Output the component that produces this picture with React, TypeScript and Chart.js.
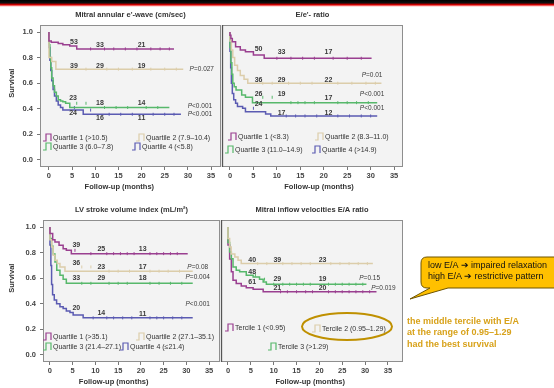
import React, { useEffect, useRef } from 'react';
import { Chart, registerables } from 'chart.js';

Chart.register(...registerables);

const FONT = '"Liberation Sans", Arial, Helvetica, sans-serif';

const PURPLE = '#9a3f90';
const BEIGE = '#dccdaa';
const GREEN = '#57b86b';
const BLUE = '#5b5bb2';

const xTicks = [0, 5, 10, 15, 20, 25, 30, 35];
const yTicks = [0, 0.2, 0.4, 0.6, 0.8, 1.0];
const yTickLabels = ['0.0', '0.2', '0.4', '0.6', '0.8', '1.0'];

// ---------- Panel A: Mitral annular e'-wave ----------
const aTitle = "Mitral annular e'-wave (cm/sec)";
const aLabels = ['Quartile 1 (>10.5)', 'Quartile 2 (7.9–10.4)', 'Quartile 3 (6.0–7.8)', 'Quartile 4 (<5.8)'];
const aQ1Time = [0, 0.5, 2, 3, 4.5, 6, 7, 27];
const aQ1Surv = [1, 0.93, 0.92, 0.91, 0.9, 0.89, 0.868, 0.868];
const aQ1Cens = [9, 12, 14, 16.5, 19, 22, 24, 26];
const aQ2Time = [0, 0.6, 1.5, 2.4, 29];
const aQ2Surv = [1, 0.8, 0.77, 0.71, 0.71];
const aQ2Cens = [8, 12.5, 15, 18, 22, 25, 27.5];
const aQ3Time = [0, 0.2, 0.4, 0.6, 0.9, 1.2, 1.6, 2.0, 2.5, 3.0, 3.6, 4.5, 9.6, 26];
const aQ3Surv = [1, 0.9, 0.8, 0.72, 0.64, 0.58, 0.53, 0.5, 0.47, 0.46, 0.455, 0.443, 0.41, 0.41];
const aQ3Cens = [6, 8, 12, 14.5, 17, 21, 23.5];
const aQ4Time = [0, 0.2, 0.4, 0.6, 0.9, 1.2, 1.6, 2.0, 2.5, 3.0, 7.4, 10.2, 28.5];
const aQ4Surv = [1, 0.88, 0.78, 0.7, 0.62, 0.55, 0.5, 0.46, 0.43, 0.41, 0.39, 0.357, 0.357];
const aQ4Cens = [5.5, 9, 13, 15.5, 18, 22.5, 25, 27];
const aRiskQ1 = [53, 33, 21];
const aRiskQ2 = [39, 29, 19];
const aRiskQ3 = [23, 18, 14];
const aRiskQ4 = [24, 16, 11];
const aPValues = ['P=0.027', 'P<0.001', 'P<0.001'];

// ---------- Panel B: E/e' ratio ----------
const bTitle = "E/e'- ratio";
const bLabels = ['Quartile 1 (<8.3)', 'Quartile 2 (8.3–11.0)', 'Quartile 3 (11.0–14.9)', 'Quartile 4 (>14.9)'];
const bQ1Time = [0, 0.2, 0.5, 1.2, 2.2, 3.3, 5.0, 7.3, 8.4, 30.2];
const bQ1Surv = [1, 0.975, 0.95, 0.925, 0.885, 0.86, 0.846, 0.82, 0.795, 0.795];
const bQ1Cens = [10, 13, 15.5, 18, 22, 25, 28];
const bQ2Time = [0, 0.3, 0.6, 1.0, 1.6, 2.2, 3.0, 3.8, 4.4, 32.3];
const bQ2Surv = [1, 0.93, 0.86, 0.8, 0.74, 0.7, 0.66, 0.63, 0.6, 0.6];
const bQ2Cens = [7, 9, 12.5, 15, 17.5, 23, 26, 29, 31];
const bQ3Time = [0, 0.2, 0.4, 0.6, 0.9, 1.3, 2.5, 3.3, 4.8, 11.7, 31.4];
const bQ3Surv = [1, 0.88, 0.76, 0.67, 0.6, 0.573, 0.547, 0.508, 0.49, 0.448, 0.448];
const bQ3Cens = [7, 9, 13, 14.5, 16, 18, 23, 25, 27, 29.5];
const bQ4Time = [0, 0.15, 0.3, 0.5, 0.8, 1.2, 1.6, 2.7, 3.3, 7.6, 8.7, 9.8, 31.4];
const bQ4Surv = [1, 0.85, 0.72, 0.6, 0.52, 0.47, 0.443, 0.417, 0.404, 0.377, 0.36, 0.344, 0.344];
const bQ4Cens = [5, 12, 14, 16, 18.5, 23, 25.5, 28, 30];
const bRiskQ1 = [50, 33, 17];
const bRiskQ2 = [36, 29, 22];
const bRiskQ3 = [26, 19, 17];
const bRiskQ4 = [24, 17, 12];
const bPValues = ['P=0.01', 'P<0.001', 'P<0.001'];

// ---------- Panel C: LV stroke volume index ----------
const cTitle = 'LV stroke volume index (mL/m²)';
const cLabels = ['Quartile 1 (>35.1)', 'Quartile 2 (27.1–35.1)', 'Quartile 3 (21.4–27.1)', 'Quartile 4 (≤21.4)'];
const cQ1Time = [0, 0.6, 1.1, 2.0, 2.9, 3.6, 4.7, 6.9, 30.3];
const cQ1Surv = [1, 0.95, 0.9, 0.883, 0.857, 0.83, 0.818, 0.792, 0.792];
const cQ1Cens = [5.5, 9, 12.5, 14, 15.5, 17, 18.5, 22, 23.5, 25, 26.5, 28];
const cQ2Time = [0, 0.4, 0.7, 1.1, 1.6, 2.2, 3.3, 10.2, 31.4];
const cQ2Surv = [1, 0.9, 0.844, 0.78, 0.74, 0.714, 0.688, 0.655, 0.655];
const cQ2Cens = [7, 9, 13, 15, 17.5, 22, 24, 26, 28.5];
const cQ3Time = [0, 0.35, 0.7, 1.1, 1.5, 2.2, 2.9, 3.6, 4.4, 31.4];
const cQ3Surv = [1, 0.91, 0.85, 0.79, 0.727, 0.662, 0.623, 0.592, 0.56, 0.56];
const cQ3Cens = [7, 9, 13, 15, 17, 22, 24, 26.5, 29];
const cQ4Time = [0, 0.2, 0.36, 0.58, 0.95, 1.46, 2.2, 2.9, 3.6, 4.4, 5.1, 7.3, 8.4, 31.4];
const cQ4Surv = [1, 0.86, 0.7, 0.55, 0.47, 0.43, 0.4, 0.377, 0.364, 0.343, 0.332, 0.312, 0.29, 0.29];
const cQ4Cens = [9.5, 12.5, 14, 16, 18, 22, 23.5, 25, 27, 29];
const cRiskQ1 = [39, 25, 13];
const cRiskQ2 = [36, 23, 17];
const cRiskQ3 = [33, 29, 18];
const cRiskQ4 = [20, 14, 11];
const cPValues = ['P=0.08', 'P=0.004', 'P<0.001'];

// ---------- Panel D: Mitral inflow E/A ratio ----------
const dTitle = 'Mitral inflow velocities E/A ratio';
const dLabels = ['Tercile 1 (<0.95)', 'Tercile 2 (0.95–1.29)', 'Tercile 3 (>1.29)'];
const dT1Time = [0, 0.36, 0.73, 1.1, 1.8, 2.9, 4.0, 5.5, 7.7, 9.8, 32.5];
const dT1Surv = [1, 0.86, 0.75, 0.65, 0.584, 0.558, 0.54, 0.525, 0.514, 0.494, 0.494];
const dT1Cens = [11.5, 13, 15, 17, 18.5, 22, 23.5, 25, 26.5, 28, 29.5, 31];
const dT2Time = [0, 0.36, 0.7, 1.5, 2.2, 2.9, 3.3, 31.7];
const dT2Surv = [1, 0.91, 0.844, 0.79, 0.766, 0.74, 0.714, 0.714];
const dT2Cens = [6.5, 8.5, 12, 14, 16, 18, 22.5, 24.5, 26.5, 28.5, 30.5];
const dT3Time = [0, 0.36, 0.73, 1.1, 1.8, 2.55, 4.0, 5.5, 6.9, 7.7, 8.4, 9.1, 30.3];
const dT3Surv = [1, 0.88, 0.805, 0.753, 0.688, 0.662, 0.65, 0.623, 0.61, 0.592, 0.571, 0.553, 0.553];
const dT3Cens = [6, 8, 10, 12, 13.5, 15, 16.5, 18, 22, 23.5, 25, 26.5, 28, 29.5];
const dRiskT1 = [61, 21, 20];
const dRiskT2 = [40, 39, 23];
const dRiskT3 = [48, 29, 19];
const dPValues = ['P=0.15', 'P=0.019'];

type Series = { color: string; t: number[]; s: number[]; c: number[] };
type TextItem = { text: string; x: number; y: number };
type LegendItem = { text: string; color: string; x: number; y: number };
type Panel = {
  key: string;
  title: string;
  series: Series[];
  xMin: number;
  xMax: number;
  showY: boolean;
  xTitleAt: number;
  risk: TextItem[];
  pvals: TextItem[];
  legend: LegendItem[];
  box: { left: number; top: number; w: number; h: number; padL: number; padR: number; padT: number; yW: number; xH: number };
  leftBorderDark: boolean;
};

function riskItems(values: number[], xs: number[], ys: number[]): TextItem[] {
  return values.map((v, i) => ({ text: String(v), x: xs[i], y: ys[i] }));
}

// survival value of a step curve at time x (look-up in the read values)
function survAt(t: number[], s: number[], x: number): number {
  let v = s[0];
  for (let i = 0; i < t.length; i++) if (t[i] <= x) v = s[i];
  return v;
}

const panels: Panel[] = [
  {
    key: 'a',
    title: aTitle,
    series: [
      { color: PURPLE, t: aQ1Time, s: aQ1Surv, c: aQ1Cens },
      { color: BEIGE, t: aQ2Time, s: aQ2Surv, c: aQ2Cens },
      { color: GREEN, t: aQ3Time, s: aQ3Surv, c: aQ3Cens },
      { color: BLUE, t: aQ4Time, s: aQ4Surv, c: aQ4Cens },
    ],
    xMin: -1.93,
    xMax: 37.15,
    showY: true,
    xTitleAt: 15.2,
    risk: [
      ...riskItems(aRiskQ1, [5.4, 11, 20], [0.925, 0.9, 0.9]),
      ...riskItems(aRiskQ2, [5.4, 11, 20], [0.735, 0.735, 0.735]),
      ...riskItems(aRiskQ3, [5.2, 11, 20], [0.48, 0.445, 0.445]),
      ...riskItems(aRiskQ4, [5.2, 11, 20], [0.37, 0.325, 0.325]),
    ],
    pvals: [
      { text: aPValues[0], x: 33, y: 0.71 },
      { text: aPValues[1], x: 32.6, y: 0.42 },
      { text: aPValues[2], x: 32.6, y: 0.36 },
    ],
    legend: [
      { text: aLabels[0], color: PURPLE, x: -1.3, y: 0.17 },
      { text: aLabels[1], color: BEIGE, x: 18.9, y: 0.17 },
      { text: aLabels[2], color: GREEN, x: -1.3, y: 0.1 },
      { text: aLabels[3], color: BLUE, x: 18.0, y: 0.1 },
    ],
    box: { left: 0, top: 6, w: 226, h: 186, padL: 0, padR: 4, padT: 19, yW: 40, xH: 25 },
    leftBorderDark: false,
  },
  {
    key: 'b',
    title: bTitle,
    series: [
      { color: PURPLE, t: bQ1Time, s: bQ1Surv, c: bQ1Cens },
      { color: BEIGE, t: bQ2Time, s: bQ2Surv, c: bQ2Cens },
      { color: GREEN, t: bQ3Time, s: bQ3Surv, c: bQ3Cens },
      { color: BLUE, t: bQ4Time, s: bQ4Surv, c: bQ4Cens },
    ],
    xMin: -1.7,
    xMax: 36.9,
    showY: false,
    xTitleAt: 19,
    risk: [
      ...riskItems(bRiskQ1, [6.1, 11, 21], [0.865, 0.84, 0.84]),
      ...riskItems(bRiskQ2, [6.1, 11, 21], [0.625, 0.625, 0.625]),
      ...riskItems(bRiskQ3, [6.1, 11, 21], [0.515, 0.515, 0.487]),
      ...riskItems(bRiskQ4, [6.1, 11, 21], [0.435, 0.37, 0.37]),
    ],
    pvals: [
      { text: bPValues[0], x: 30.3, y: 0.664 },
      { text: bPValues[1], x: 30.3, y: 0.515 },
      { text: bPValues[2], x: 30.3, y: 0.404 },
    ],
    legend: [
      { text: bLabels[0], color: PURPLE, x: -0.4, y: 0.18 },
      { text: bLabels[1], color: BEIGE, x: 18.1, y: 0.18 },
      { text: bLabels[2], color: GREEN, x: -1.1, y: 0.075 },
      { text: bLabels[3], color: BLUE, x: 17.5, y: 0.075 },
    ],
    box: { left: 210, top: 6, w: 200, h: 186, padL: 12, padR: 7, padT: 19, yW: 0, xH: 25 },
    leftBorderDark: true,
  },
  {
    key: 'c',
    title: cTitle,
    series: [
      { color: PURPLE, t: cQ1Time, s: cQ1Surv, c: cQ1Cens },
      { color: BEIGE, t: cQ2Time, s: cQ2Surv, c: cQ2Cens },
      { color: GREEN, t: cQ3Time, s: cQ3Surv, c: cQ3Cens },
      { color: BLUE, t: cQ4Time, s: cQ4Surv, c: cQ4Cens },
    ],
    xMin: -1.53,
    xMax: 37.4,
    showY: true,
    xTitleAt: 14,
    risk: [
      ...riskItems(cRiskQ1, [5.8, 11.3, 20.4], [0.857, 0.826, 0.826]),
      ...riskItems(cRiskQ2, [5.8, 11.3, 20.4], [0.72, 0.686, 0.686]),
      ...riskItems(cRiskQ3, [5.8, 11.3, 20.4], [0.605, 0.605, 0.605]),
      ...riskItems(cRiskQ4, [5.8, 11.3, 20.4], [0.364, 0.325, 0.317]),
    ],
    pvals: [
      { text: cPValues[0], x: 32.5, y: 0.688 },
      { text: cPValues[1], x: 32.5, y: 0.605 },
      { text: cPValues[2], x: 32.5, y: 0.395 },
    ],
    legend: [
      { text: cLabels[0], color: PURPLE, x: -1.6, y: 0.14 },
      { text: cLabels[1], color: BEIGE, x: 19.0, y: 0.14 },
      { text: cLabels[2], color: GREEN, x: -1.6, y: 0.065 },
      { text: cLabels[3], color: BLUE, x: 15.3, y: 0.065 },
    ],
    box: { left: 0, top: 196, w: 225, h: 192, padL: 0, padR: 4, padT: 24, yW: 43, xH: 26 },
    leftBorderDark: false,
  },
  {
    key: 'd',
    title: dTitle,
    series: [
      { color: BEIGE, t: dT2Time, s: dT2Surv, c: dT2Cens },
      { color: GREEN, t: dT3Time, s: dT3Surv, c: dT3Cens },
      { color: PURPLE, t: dT1Time, s: dT1Surv, c: dT1Cens },
    ],
    xMin: -1.53,
    xMax: 38.3,
    showY: false,
    xTitleAt: 18,
    risk: [
      ...riskItems(dRiskT1, [5.3, 10.8, 20.7], [0.566, 0.52, 0.52]),
      ...riskItems(dRiskT2, [5.3, 10.8, 20.7], [0.745, 0.745, 0.745]),
      ...riskItems(dRiskT3, [5.3, 10.8, 20.7], [0.65, 0.597, 0.597]),
    ],
    pvals: [
      { text: dPValues[0], x: 31, y: 0.597 },
      { text: dPValues[1], x: 34, y: 0.525 },
    ],
    legend: [
      { text: dLabels[0], color: PURPLE, x: -0.7, y: 0.21 },
      { text: dLabels[1], color: BEIGE, x: 18.4, y: 0.205 },
      { text: dLabels[2], color: GREEN, x: 8.8, y: 0.065 },
    ],
    box: { left: 210, top: 196, w: 200, h: 192, padL: 11, padR: 7, padT: 24, yW: 0, xH: 26 },
    leftBorderDark: true,
  },
];

function makeDecor(p: Panel) {
  return {
    id: 'decor_' + p.key,
    beforeDraw(chart: any) {
      const { ctx, chartArea: a } = chart;
      ctx.save();
      ctx.fillStyle = '#f3f3f3';
      ctx.fillRect(a.left, a.top, a.right - a.left, a.bottom - a.top);
      ctx.restore();
    },
    afterDraw(chart: any) {
      const { ctx, chartArea: a, scales } = chart;
      const xs = scales.x;
      const ys = scales.y;
      ctx.save();
      // frame
      ctx.strokeStyle = '#8e8e8e';
      ctx.lineWidth = 1;
      ctx.strokeRect(a.left + 0.5, a.top + 0.5, a.right - a.left - 1, a.bottom - a.top - 1);
      if (p.leftBorderDark) {
        ctx.strokeStyle = '#555';
        ctx.lineWidth = 1.3;
        ctx.beginPath();
        ctx.moveTo(a.left + 0.5, a.top);
        ctx.lineTo(a.left + 0.5, a.bottom);
        ctx.stroke();
      }
      ctx.fillStyle = '#333';
      ctx.textBaseline = 'middle';
      // title
      ctx.textAlign = 'center';
      ctx.font = `bold 7.5px ${FONT}`;
      ctx.fillText(p.title, (a.left + a.right) / 2, a.top - 10);
      // x title
      ctx.fillText('Follow-up (months)', xs.getPixelForValue(p.xTitleAt), a.bottom + 19.5);
      // y title
      if (p.showY) {
        ctx.save();
        ctx.translate(12, ys.getPixelForValue(0.6));
        ctx.rotate(-Math.PI / 2);
        ctx.fillText('Survival', 0, 0);
        ctx.restore();
      }
      // numbers at risk
      ctx.font = `bold 7px ${FONT}`;
      ctx.fillStyle = '#3a3a3a';
      for (const r of p.risk) {
        ctx.fillText(r.text, xs.getPixelForValue(r.x), ys.getPixelForValue(r.y));
      }
      // p values
      ctx.textAlign = 'left';
      for (const pv of p.pvals) {
        const head = pv.text.slice(0, 1);
        const rest = pv.text.slice(1);
        ctx.font = `italic 6.5px ${FONT}`;
        const w1 = ctx.measureText(head).width;
        ctx.font = `6.5px ${FONT}`;
        const w2 = ctx.measureText(rest).width;
        const x0 = xs.getPixelForValue(pv.x) - (w1 + w2) / 2;
        const y0 = ys.getPixelForValue(pv.y);
        ctx.font = `italic 6.5px ${FONT}`;
        ctx.fillText(head, x0, y0);
        ctx.font = `6.5px ${FONT}`;
        ctx.fillText(rest, x0 + w1, y0);
      }
      // legend
      for (const l of p.legend) {
        const px = Math.round(xs.getPixelForValue(l.x));
        const py = Math.round(ys.getPixelForValue(l.y));
        ctx.strokeStyle = l.color;
        ctx.lineWidth = 1.2;
        ctx.beginPath();
        ctx.moveTo(px, py + 3);
        ctx.lineTo(px + 3, py + 3);
        ctx.lineTo(px + 3, py - 4);
        ctx.lineTo(px + 8, py - 4);
        ctx.lineTo(px + 8, py + 3);
        ctx.stroke();
        ctx.fillStyle = '#333';
        ctx.font = `7px ${FONT}`;
        ctx.fillText(l.text, px + 10, py);
      }
      ctx.restore();
    },
  };
}

function KMPanel({ p }: { p: Panel }) {
  const ref = useRef<HTMLCanvasElement | null>(null);
  useEffect(() => {
    if (!ref.current) return;
    const b = p.box;
    const lines = p.series.map((s) => ({
      type: 'line' as const,
      data: s.t.map((t, i) => ({ x: t, y: s.s[i] })),
      borderColor: s.color,
      borderWidth: 1.5,
      stepped: 'after' as const,
      pointRadius: 0,
      fill: false,
    }));
    const censors = p.series.map((s) => ({
      type: 'line' as const,
      data: s.c.map((x) => ({ x, y: survAt(s.t, s.s, x) })),
      showLine: false,
      borderColor: s.color,
      pointStyle: 'line' as const,
      rotation: 90,
      pointRadius: 1.5,
      pointBorderWidth: 1,
      pointBorderColor: s.color,
    }));
    const chart = new Chart(ref.current, {
      type: 'line',
      data: { datasets: [...lines, ...censors] as any },
      options: {
        responsive: false,
        animation: false,
        devicePixelRatio: 1,
        events: [],
        layout: { padding: { left: b.padL, right: b.padR, top: b.padT, bottom: 0 } },
        plugins: { legend: { display: false }, tooltip: { enabled: false }, title: { display: false } },
        scales: {
          x: {
            type: 'linear',
            min: p.xMin,
            max: p.xMax,
            afterBuildTicks: (s: any) => {
              s.ticks = xTicks.map((v) => ({ value: v }));
            },
            afterFit: (s: any) => {
              s.height = b.xH;
            },
            ticks: {
              autoSkip: false,
              maxRotation: 0,
              padding: 1,
              color: '#444',
              font: { family: FONT, size: 7.5, weight: 'bold' },
              callback: (v: any) => String(v),
            },
            grid: { drawOnChartArea: false, drawTicks: true, tickLength: 3, color: '#777' },
            border: { display: false },
          },
          y: {
            type: 'linear',
            min: -0.055,
            max: 1.055,
            display: p.showY,
            afterBuildTicks: (s: any) => {
              s.ticks = yTicks.map((v) => ({ value: v }));
            },
            afterFit: (s: any) => {
              s.width = b.yW;
            },
            ticks: {
              autoSkip: false,
              padding: 4,
              color: '#444',
              font: { family: FONT, size: 7.5, weight: 'bold' },
              callback: (_v: any, i: number) => yTickLabels[i],
            },
            grid: { drawOnChartArea: false, drawTicks: true, tickLength: 3, color: '#777' },
            border: { display: false },
          },
        },
      } as any,
      plugins: [makeDecor(p)],
    });
    return () => chart.destroy();
  }, [p]);
  const b = p.box;
  return (
    <div style={{ position: 'absolute', left: b.left, top: b.top, width: b.w, height: b.h }}>
      <canvas ref={ref} width={b.w} height={b.h} style={{ width: b.w, height: b.h, display: 'block' }} />
    </div>
  );
}

export default function App() {
  return (
    <div
      style={{
        position: 'fixed',
        left: 0,
        top: 0,
        width: 554,
        height: 388,
        background: '#fff',
        overflow: 'hidden',
        fontFamily: FONT,
      }}
    >
      <div
        style={{
          position: 'absolute',
          left: 0,
          top: 0,
          width: 554,
          height: 7,
          background: 'linear-gradient(to bottom, #000 0px, #111 3px, #a00000 4px, #e80000 5px, #ffb4b4 6px, #fff 7px)',
        }}
      />
      {panels.map((p) => (
        <KMPanel key={p.key} p={p} />
      ))}
      <svg
        width={554}
        height={388}
        style={{ position: 'absolute', left: 0, top: 0, pointerEvents: 'none' }}
      >
        <ellipse cx={347} cy={326.5} rx={45} ry={13.5} fill="none" stroke="#bf9000" strokeWidth={2} />
        <path
          d="M 427 257 H 560 V 288 H 448 L 410 299 L 430 288 H 427 Q 421 288 421 282 V 263 Q 421 257 427 257 Z"
          fill="#ffc000"
          stroke="#6e5400"
          strokeWidth={1}
        />
      </svg>
      <div
        style={{
          position: 'absolute',
          left: 428,
          top: 260,
          fontSize: 9,
          lineHeight: '11px',
          color: '#111',
          whiteSpace: 'nowrap',
          fontFamily: FONT,
        }}
      >
        <div>low E/A ➔ impaired relaxation</div>
        <div>high E/A ➔ restrictive pattern</div>
      </div>
      <div
        style={{
          position: 'absolute',
          left: 407,
          top: 316,
          fontSize: 9,
          lineHeight: '11.3px',
          fontWeight: 'bold',
          color: '#d8a21a',
          whiteSpace: 'nowrap',
          fontFamily: FONT,
        }}
      >
        <div>the middle tercile with E/A</div>
        <div>at the range of 0.95–1.29</div>
        <div>had the best survival</div>
      </div>
    </div>
  );
}
